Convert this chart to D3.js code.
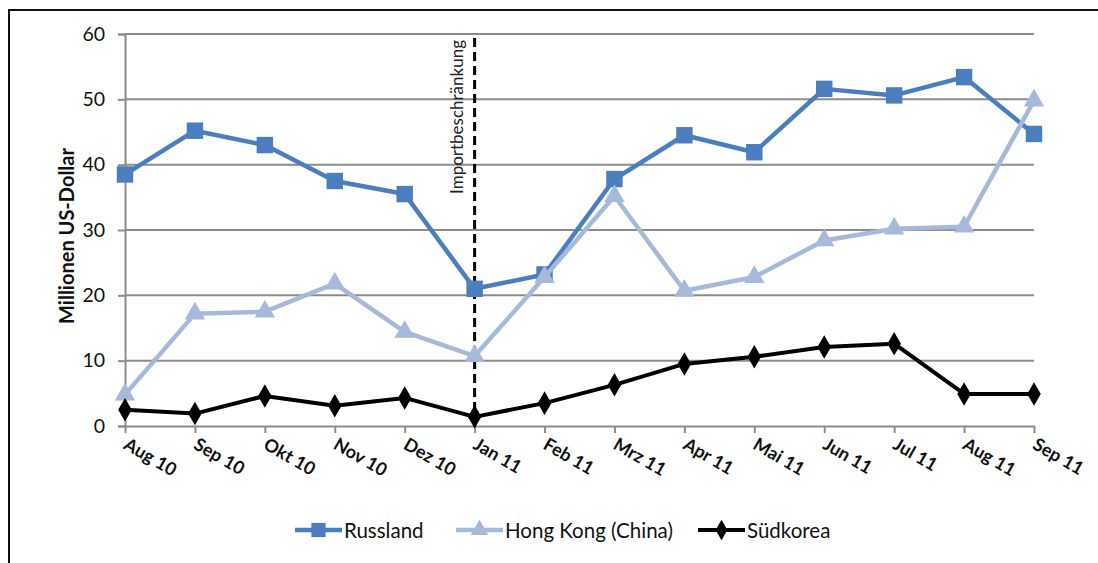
<!DOCTYPE html>
<html>
<head>
<meta charset="utf-8">
<script src="https://cdn.jsdelivr.net/npm/d3@7"></script>
<style>
  html, body { margin: 0; padding: 0; background: #fff; }
  svg { display: block; font-family: Lato, "Noto Sans", sans-serif; }
</style>
</head>
<body>
<svg id="chart" width="1098" height="563"></svg>
<script>
// Monthly import values, million US dollars
const months = ["Aug 10", "Sep 10", "Okt 10", "Nov 10", "Dez 10", "Jan 11", "Feb 11",
                "Mrz 11", "Apr 11", "Mai 11", "Jun 11", "Jul 11", "Aug 11", "Sep 11"];
const russland  = [38.5, 45.2, 43.0, 37.5, 35.5, 21.0, 23.2, 37.8, 44.5, 41.9, 51.6, 50.6, 53.4, 44.7];
const hongkong  = [4.8, 17.2, 17.5, 21.8, 14.4, 10.7, 22.8, 35.2, 20.7, 22.8, 28.4, 30.2, 30.5, 49.8];
const suedkorea = [2.5, 1.9, 4.6, 3.1, 4.3, 1.4, 3.5, 6.3, 9.5, 10.6, 12.1, 12.6, 4.9, 4.9];
const yTicks = [0, 10, 20, 30, 40, 50, 60];
const seriesNames = ["Russland", "Hong Kong (China)", "Südkorea"];
const markerMonth = "Jan 11";
const markerLabel = "Importbeschränkung";

const series = [
  { name: seriesNames[0], values: russland,  color: "#4A7EBE", width: 4.5, symbol: d3.symbolSquare,   size: 270 },
  { name: seriesNames[1], values: hongkong,  color: "#A7B9DB", width: 4.5, symbol: d3.symbolTriangle, size: 180 },
  { name: seriesNames[2], values: suedkorea, color: "#000000", width: 4,   symbol: d3.symbolDiamond,  size: 160 }
];

const svg = d3.select("#chart");

// outer frame (top and left edges visible)
svg.append("path")
  .attr("d", "M9,1100 L9,10 L1100,10")
  .attr("fill", "none").attr("stroke", "#111").attr("stroke-width", 2);

const x = d3.scalePoint().domain(months).range([125, 1034]);
const y = d3.scaleLinear().domain([0, 60]).range([426, 34]);

// horizontal gridlines
svg.append("g").selectAll("line").data(yTicks.filter(t => t > 0)).join("line")
  .attr("x1", 125).attr("x2", 1034)
  .attr("y1", d => y(d)).attr("y2", d => y(d))
  .attr("stroke", "#8c8c8c").attr("stroke-width", 2);

// y axis
const yAxis = svg.append("g").attr("transform", "translate(125,0)")
  .call(d3.axisLeft(y).tickValues(yTicks).tickSize(7).tickPadding(13));
yAxis.select(".domain").attr("stroke", "#8c8c8c").attr("stroke-width", 2);
yAxis.selectAll(".tick line").attr("stroke", "#8c8c8c").attr("stroke-width", 2);
yAxis.selectAll(".tick text").attr("font-size", 19.5).attr("fill", "#111")
  .attr("font-family", "Lato, sans-serif");

// x axis
const xAxis = svg.append("g").attr("transform", "translate(0,426)")
  .call(d3.axisBottom(x).tickSize(7).tickSizeOuter(0));
xAxis.select(".domain").attr("stroke", "#8c8c8c").attr("stroke-width", 2);
xAxis.selectAll(".tick line").attr("stroke", "#8c8c8c").attr("stroke-width", 2);
xAxis.selectAll(".tick text")
  .attr("font-size", 18).attr("font-weight", 700).attr("fill", "#111")
  .attr("font-family", "Lato, sans-serif")
  .attr("text-anchor", "start")
  .attr("dy", 0).attr("y", 0)
  .attr("transform", "translate(-3,22) rotate(30)");

// y axis title
svg.append("text")
  .attr("transform", "translate(74,236) rotate(-90)")
  .attr("text-anchor", "middle")
  .attr("font-size", 20).attr("font-weight", 700).attr("fill", "#111")
  .text("Millionen US-Dollar");

// import restriction marker
const mx = x(markerMonth);
svg.append("line")
  .attr("x1", mx).attr("x2", mx).attr("y1", 38).attr("y2", 426)
  .attr("stroke", "#000").attr("stroke-width", 3).attr("stroke-dasharray", "9,5");
svg.append("text")
  .attr("transform", `translate(${mx - 12},40) rotate(-90)`)
  .attr("text-anchor", "end")
  .attr("font-size", 17).attr("fill", "#222")
  .text(markerLabel);

// series lines and markers
const line = d3.line().x((d, i) => x(months[i])).y(d => y(d));
series.forEach(s => {
  const g = svg.append("g");
  g.append("path").datum(s.values)
    .attr("d", line).attr("fill", "none")
    .attr("stroke", s.color).attr("stroke-width", s.width)
    .attr("stroke-linejoin", "round");
  g.selectAll("path.mk").data(s.values).join("path").attr("class", "mk")
    .attr("transform", (d, i) => `translate(${x(months[i])},${y(d)})`)
    .attr("d", d3.symbol().type(s.symbol).size(s.size))
    .attr("fill", s.color);
});

// legend
const legendX = [295, 456, 698];
const legend = svg.append("g");
series.forEach((s, i) => {
  const lg = legend.append("g").attr("transform", `translate(${legendX[i]},530)`);
  lg.append("line").attr("x1", 0).attr("x2", 47).attr("y1", 0).attr("y2", 0)
    .attr("stroke", s.color).attr("stroke-width", s.width);
  lg.append("path").attr("transform", "translate(23.5,0)")
    .attr("d", d3.symbol().type(s.symbol).size(s.size * 0.75))
    .attr("fill", s.color);
  lg.append("text").attr("x", 49).attr("y", 7.5)
    .attr("font-size", 20.5).attr("fill", "#111")
    .text(s.name);
});
</script>
</body>
</html>
